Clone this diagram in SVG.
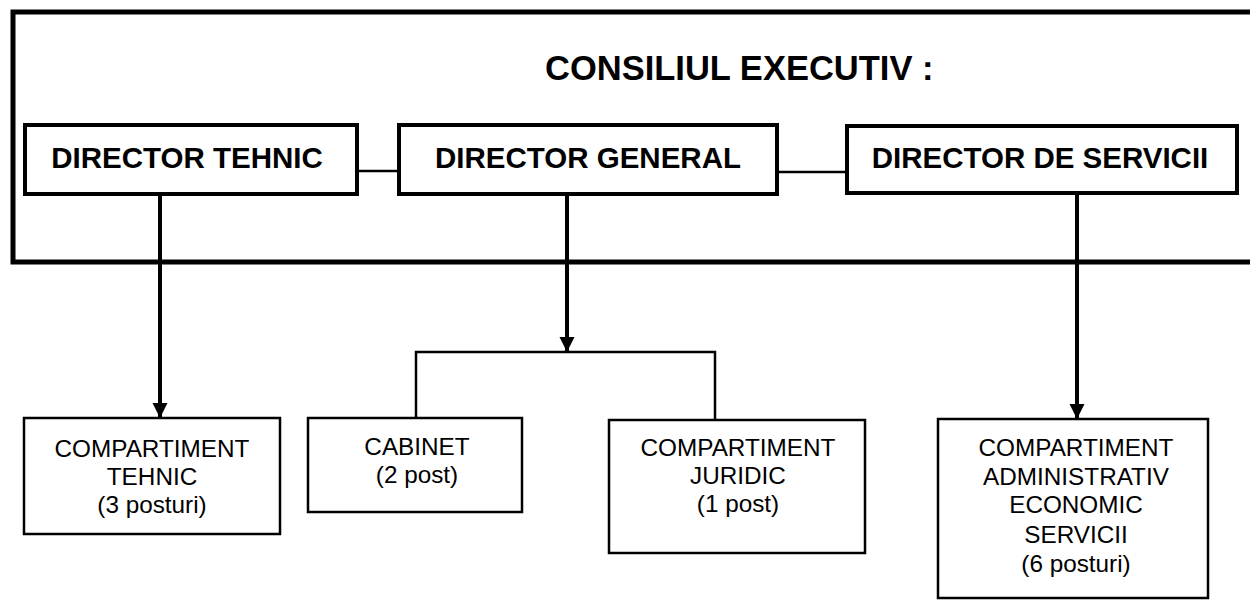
<svg xmlns="http://www.w3.org/2000/svg" width="1250" height="600" viewBox="0 0 1250 600">
<style>
.frame{fill:none;stroke:#000;stroke-width:5}
.dir{fill:#fff;stroke:#000;stroke-width:4}
.box{fill:#fff;stroke:#000;stroke-width:2.5}
.thick{fill:none;stroke:#000;stroke-width:4}
.thin{fill:none;stroke:#000;stroke-width:2.5}
.b{font-family:"Liberation Sans",Arial,sans-serif;font-weight:bold;fill:#000}
.r{font-family:"Liberation Sans",Arial,sans-serif;font-size:24.3px;fill:#000;text-anchor:middle}
</style>
<defs>
<marker id="arr" markerUnits="userSpaceOnUse" markerWidth="15" markerHeight="16" refX="15" refY="7.5" orient="auto" viewBox="0 0 15 15">
<path d="M0,0 L15,7.5 L0,15 Z" fill="#000"/>
</marker>
</defs>
<rect class="frame" x="13" y="12" width="1260" height="250"/>
<text class="b" x="545" y="80" font-size="34.5">CONSILIUL EXECUTIV :</text>
<g id="connectors">
<line class="thin" x1="357" y1="171" x2="399" y2="171"/>
<line class="thin" x1="777" y1="172" x2="847" y2="172"/>
<line class="thick" x1="160" y1="195" x2="160" y2="418" marker-end="url(#arr)"/>
<line class="thick" x1="567" y1="195" x2="567" y2="352" marker-end="url(#arr)"/>
<line class="thick" x1="1077" y1="193" x2="1077" y2="419" marker-end="url(#arr)"/>
<polyline class="thin" points="416,418 416,352 715,352 715,420"/>
</g>
<g id="director-tehnic">
<rect class="dir" x="25" y="125" width="332" height="69"/>
<text class="b" x="187" y="168" font-size="29.5" text-anchor="middle">DIRECTOR TEHNIC</text>
</g>
<g id="director-general">
<rect class="dir" x="399" y="125" width="378" height="69"/>
<text class="b" x="588" y="168" font-size="29.5" text-anchor="middle">DIRECTOR GENERAL</text>
</g>
<g id="director-servicii">
<rect class="dir" x="847" y="126" width="390" height="67"/>
<text class="b" x="1040" y="168" font-size="29.5" text-anchor="middle">DIRECTOR DE SERVICII</text>
</g>
<g id="compartiment-tehnic">
<rect class="box" x="24" y="418" width="256" height="116"/>
<text class="r" x="152" y="457">COMPARTIMENT</text>
<text class="r" x="152" y="485">TEHNIC</text>
<text class="r" x="152" y="513">(3 posturi)</text>
</g>
<g id="cabinet">
<rect class="box" x="308" y="418" width="214" height="94"/>
<text class="r" x="417" y="455">CABINET</text>
<text class="r" x="417" y="483">(2 post)</text>
</g>
<g id="compartiment-juridic">
<rect class="box" x="609" y="420" width="256" height="133"/>
<text class="r" x="738" y="456">COMPARTIMENT</text>
<text class="r" x="738" y="484">JURIDIC</text>
<text class="r" x="738" y="512">(1 post)</text>
</g>
<g id="compartiment-administrativ">
<rect class="box" x="938" y="419" width="270" height="179"/>
<text class="r" x="1076" y="456">COMPARTIMENT</text>
<text class="r" x="1076" y="485">ADMINISTRATIV</text>
<text class="r" x="1076" y="513">ECONOMIC</text>
<text class="r" x="1076" y="543">SERVICII</text>
<text class="r" x="1076" y="572">(6 posturi)</text>
</g>
</svg>
